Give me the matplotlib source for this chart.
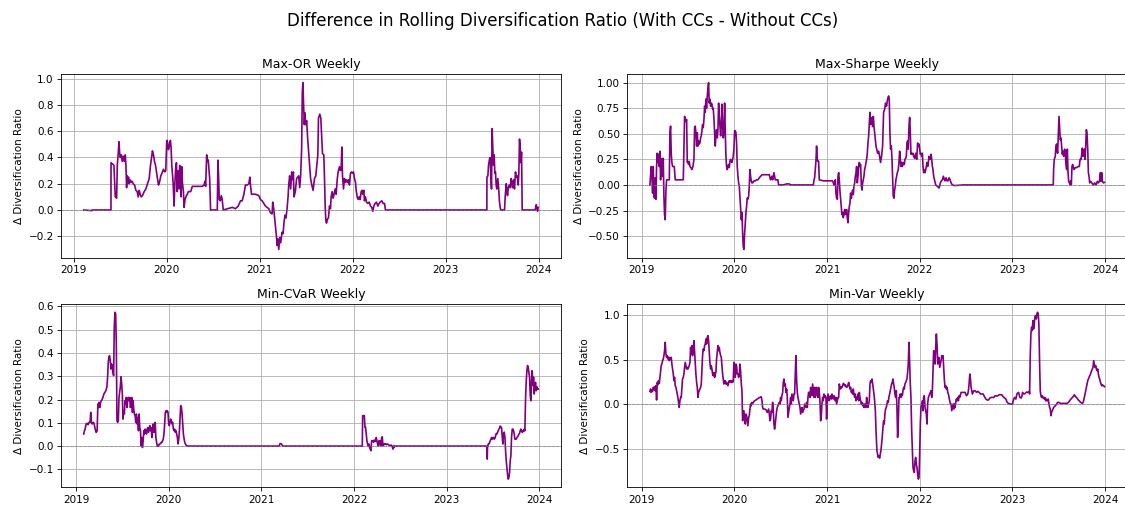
import matplotlib
matplotlib.use("Agg")
import matplotlib.pyplot as plt
import matplotlib.dates as mdates
from matplotlib.ticker import MultipleLocator
import numpy as np
import pandas as pd

# (decimal year, delta diversification ratio) for each strategy
max_or = [
    (2019.107, 0.00), (2019.196, -0.005), (2019.200, 0.00), (2019.400, 0.00), (2019.401, 0.36),
    (2019.418, 0.35), (2019.432, 0.34), (2019.446, 0.10), (2019.461, 0.09), (2019.468, 0.34),
    (2019.479, 0.44), (2019.486, 0.52), (2019.493, 0.44), (2019.500, 0.40), (2019.511, 0.42),
    (2019.521, 0.37), (2019.532, 0.41), (2019.543, 0.37), (2019.554, 0.42), (2019.561, 0.34),
    (2019.568, 0.17), (2019.575, 0.26), (2019.582, 0.22), (2019.589, 0.25), (2019.596, 0.20),
    (2019.604, 0.23), (2019.614, 0.21), (2019.625, 0.22), (2019.639, 0.20), (2019.654, 0.19),
    (2019.668, 0.15), (2019.682, 0.14), (2019.693, 0.10), (2019.704, 0.15), (2019.714, 0.12),
    (2019.725, 0.10), (2019.739, 0.11), (2019.757, 0.14), (2019.775, 0.16), (2019.793, 0.20),
    (2019.811, 0.24), (2019.825, 0.34), (2019.836, 0.40), (2019.846, 0.45), (2019.857, 0.42),
    (2019.868, 0.37), (2019.879, 0.34), (2019.889, 0.29), (2019.900, 0.24), (2019.911, 0.19),
    (2019.921, 0.21), (2019.936, 0.26), (2019.954, 0.29), (2019.964, 0.31), (2019.979, 0.29),
    (2019.989, 0.30), (2020.000, 0.53), (2020.011, 0.51), (2020.018, 0.46), (2020.029, 0.49),
    (2020.039, 0.53), (2020.046, 0.48), (2020.054, 0.34), (2020.061, 0.27), (2020.068, 0.21),
    (2020.079, 0.03), (2020.086, 0.19), (2020.096, 0.32), (2020.104, 0.36), (2020.111, 0.14),
    (2020.118, 0.21), (2020.125, 0.30), (2020.132, 0.16), (2020.139, 0.34), (2020.146, 0.24),
    (2020.154, 0.10), (2020.161, 0.33), (2020.168, 0.21), (2020.179, 0.14), (2020.186, 0.02),
    (2020.196, 0.08), (2020.211, 0.11), (2020.221, 0.12), (2020.232, 0.14), (2020.246, 0.14),
    (2020.257, 0.14), (2020.275, 0.18), (2020.382, 0.18), (2020.400, 0.19), (2020.411, 0.22),
    (2020.418, 0.18), (2020.429, 0.42), (2020.439, 0.37), (2020.446, 0.38), (2020.461, 0.24),
    (2020.471, 0.00), (2020.543, 0.00), (2020.550, 0.38), (2020.557, 0.26), (2020.564, 0.08),
    (2020.575, 0.07), (2020.586, 0.11), (2020.596, 0.08), (2020.607, 0.00), (2020.704, 0.02),
    (2020.739, 0.01), (2020.768, 0.03), (2020.793, 0.07), (2020.811, 0.07), (2020.829, 0.12),
    (2020.846, 0.19), (2020.864, 0.19), (2020.882, 0.20), (2020.893, 0.25), (2020.900, 0.19),
    (2020.911, 0.12), (2020.954, 0.12), (2020.989, 0.11), (2021.007, 0.08), (2021.025, 0.07),
    (2021.043, 0.05), (2021.061, 0.03), (2021.079, 0.02), (2021.096, 0.01), (2021.114, -0.02),
    (2021.132, -0.03), (2021.139, 0.06), (2021.150, 0.01), (2021.161, -0.07), (2021.168, -0.12),
    (2021.179, -0.20), (2021.186, -0.27), (2021.193, -0.22), (2021.204, -0.30), (2021.214, -0.21),
    (2021.225, -0.25), (2021.239, -0.17), (2021.250, -0.18), (2021.261, -0.09), (2021.271, -0.04),
    (2021.282, -0.06), (2021.293, 0.01), (2021.304, 0.10), (2021.311, 0.19), (2021.321, 0.26),
    (2021.332, 0.16), (2021.343, 0.29), (2021.354, 0.23), (2021.361, 0.29), (2021.368, 0.10),
    (2021.382, 0.14), (2021.396, 0.24), (2021.407, 0.25), (2021.418, 0.26), (2021.429, 0.17),
    (2021.439, 0.26), (2021.450, 0.47), (2021.457, 0.90), (2021.464, 0.97), (2021.471, 0.80),
    (2021.479, 0.65), (2021.486, 0.74), (2021.493, 0.65), (2021.504, 0.68), (2021.514, 0.55),
    (2021.525, 0.44), (2021.536, 0.34), (2021.546, 0.24), (2021.559, 0.19), (2021.573, 0.15),
    (2021.588, 0.24), (2021.602, 0.26), (2021.613, 0.34), (2021.624, 0.42), (2021.631, 0.70),
    (2021.645, 0.73), (2021.656, 0.70), (2021.663, 0.60), (2021.674, 0.43), (2021.688, 0.42),
    (2021.695, 0.26), (2021.703, 0.03), (2021.710, -0.08), (2021.717, -0.10), (2021.728, -0.07),
    (2021.738, -0.06), (2021.749, 0.03), (2021.760, 0.01), (2021.767, 0.10), (2021.778, 0.14),
    (2021.788, 0.09), (2021.799, 0.12), (2021.810, 0.16), (2021.821, 0.12), (2021.832, 0.23),
    (2021.842, 0.29), (2021.857, 0.33), (2021.867, 0.30), (2021.875, 0.31), (2021.882, 0.48),
    (2021.889, 0.26), (2021.900, 0.16), (2021.910, 0.24), (2021.921, 0.21), (2021.932, 0.23),
    (2021.943, 0.21), (2021.953, 0.23), (2021.964, 0.19), (2021.975, 0.28), (2021.986, 0.29),
    (2021.996, 0.28), (2022.007, 0.29), (2022.018, 0.24), (2022.029, 0.21), (2022.036, 0.15),
    (2022.047, 0.10), (2022.057, 0.08), (2022.068, 0.10), (2022.079, 0.08), (2022.090, 0.14),
    (2022.100, 0.15), (2022.108, 0.12), (2022.118, 0.15), (2022.125, 0.07), (2022.136, 0.10),
    (2022.147, 0.06), (2022.161, 0.05), (2022.176, 0.06), (2022.190, 0.03), (2022.204, 0.02),
    (2022.215, -0.01), (2022.226, 0.03), (2022.240, 0.05), (2022.254, 0.06), (2022.269, 0.03),
    (2022.283, 0.05), (2022.294, 0.06), (2022.312, 0.07), (2022.326, 0.05), (2022.341, 0.05),
    (2022.351, 0.00), (2023.441, 0.00), (2023.442, 0.25), (2023.452, 0.26), (2023.459, 0.34),
    (2023.470, 0.39), (2023.477, 0.40), (2023.484, 0.26), (2023.491, 0.16), (2023.498, 0.62),
    (2023.505, 0.47), (2023.513, 0.34), (2023.520, 0.42), (2023.527, 0.28), (2023.534, 0.29),
    (2023.541, 0.19), (2023.548, 0.16), (2023.559, 0.24), (2023.570, 0.14), (2023.577, 0.06),
    (2023.584, 0.02), (2023.591, 0.00), (2023.631, 0.00), (2023.638, 0.10), (2023.649, 0.20),
    (2023.656, 0.17), (2023.663, 0.11), (2023.670, 0.16), (2023.681, 0.19), (2023.692, 0.17),
    (2023.703, 0.24), (2023.710, 0.21), (2023.717, 0.17), (2023.728, 0.23), (2023.738, 0.16),
    (2023.749, 0.29), (2023.756, 0.25), (2023.767, 0.26), (2023.778, 0.19), (2023.785, 0.28),
    (2023.792, 0.54), (2023.799, 0.49), (2023.806, 0.36), (2023.814, 0.44), (2023.821, 0.00),
    (2023.961, 0.00), (2023.971, 0.04), (2023.978, 0.02), (2023.986, -0.01), (2023.993, 0.02),
]

max_sharpe = [
    (2019.090, 0.00), (2019.104, 0.18), (2019.112, 0.085), (2019.119, -0.08), (2019.126, 0.18),
    (2019.133, -0.11), (2019.140, -0.13), (2019.147, 0.07), (2019.155, -0.14), (2019.162, 0.18),
    (2019.169, 0.31), (2019.176, 0.22), (2019.183, 0.30), (2019.191, 0.18), (2019.198, 0.33),
    (2019.205, 0.05), (2019.212, 0.18), (2019.219, 0.26), (2019.227, 0.085), (2019.234, 0.26),
    (2019.241, -0.11), (2019.248, -0.29), (2019.255, -0.34), (2019.263, -0.05), (2019.270, 0.05),
    (2019.299, 0.05), (2019.306, 0.51), (2019.313, 0.575), (2019.320, 0.31), (2019.327, 0.22),
    (2019.335, 0.18), (2019.353, 0.18), (2019.363, 0.05), (2019.450, 0.05), (2019.457, 0.35),
    (2019.464, 0.67), (2019.471, 0.64), (2019.478, 0.62), (2019.486, 0.64), (2019.493, 0.22),
    (2019.500, 0.23), (2019.507, 0.20), (2019.514, 0.23), (2019.522, 0.18), (2019.532, 0.17),
    (2019.543, 0.15), (2019.554, 0.18), (2019.565, 0.25), (2019.572, 0.56), (2019.579, 0.575),
    (2019.586, 0.51), (2019.594, 0.38), (2019.601, 0.51), (2019.608, 0.38), (2019.615, 0.43),
    (2019.622, 0.40), (2019.629, 0.41), (2019.637, 0.46), (2019.644, 0.48), (2019.651, 0.53),
    (2019.658, 0.59), (2019.665, 0.56), (2019.673, 0.64), (2019.680, 0.77), (2019.687, 0.71),
    (2019.694, 0.84), (2019.701, 0.75), (2019.709, 0.87), (2019.716, 0.95), (2019.723, 1.00),
    (2019.730, 0.80), (2019.737, 0.84), (2019.745, 0.77), (2019.752, 0.80), (2019.759, 0.79),
    (2019.766, 0.74), (2019.773, 0.75), (2019.781, 0.64), (2019.788, 0.51), (2019.795, 0.38),
    (2019.802, 0.48), (2019.809, 0.54), (2019.817, 0.46), (2019.824, 0.54), (2019.831, 0.80),
    (2019.838, 0.67), (2019.845, 0.575), (2019.853, 0.48), (2019.860, 0.61), (2019.867, 0.79),
    (2019.874, 0.575), (2019.881, 0.46), (2019.888, 0.51), (2019.896, 0.80), (2019.903, 0.51),
    (2019.910, 0.28), (2019.917, 0.18), (2019.924, 0.15), (2019.932, 0.18), (2019.939, 0.20),
    (2019.946, 0.17), (2019.953, 0.23), (2019.960, 0.25), (2019.968, 0.23), (2019.975, 0.22),
    (2019.982, 0.25), (2019.989, 0.28), (2019.996, 0.35), (2020.004, 0.53), (2020.011, 0.53),
    (2020.018, 0.51), (2020.025, 0.41), (2020.032, 0.18), (2020.040, 0.085), (2020.047, 0.02),
    (2020.054, -0.01), (2020.061, -0.11), (2020.068, -0.21), (2020.076, -0.34), (2020.083, -0.27),
    (2020.090, -0.47), (2020.097, -0.60), (2020.104, -0.63), (2020.112, -0.47), (2020.119, -0.37),
    (2020.126, -0.27), (2020.133, -0.21), (2020.140, -0.13), (2020.147, -0.14), (2020.155, -0.11),
    (2020.162, -0.01), (2020.169, 0.15), (2020.176, 0.085), (2020.183, 0.04), (2020.191, 0.02),
    (2020.198, 0.02), (2020.212, 0.04), (2020.227, 0.04), (2020.241, 0.05), (2020.255, 0.05),
    (2020.270, 0.07), (2020.284, 0.085), (2020.299, 0.10), (2020.378, 0.10), (2020.385, 0.07),
    (2020.392, 0.05), (2020.406, 0.085), (2020.414, 0.05), (2020.428, 0.12), (2020.435, 0.085),
    (2020.442, 0.05), (2020.471, 0.05), (2020.478, 0.00), (2020.529, 0.00), (2020.565, 0.01),
    (2020.594, 0.01), (2020.608, 0.00), (2020.853, 0.00), (2020.860, 0.05), (2020.867, 0.07),
    (2020.874, 0.15), (2020.881, 0.23), (2020.888, 0.38), (2020.896, 0.25), (2020.903, 0.23),
    (2020.910, 0.23), (2020.917, 0.05), (2020.960, 0.04), (2020.996, 0.04), (2021.032, 0.04),
    (2021.061, 0.04), (2021.076, 0.00), (2021.083, 0.02), (2021.090, 0.05), (2021.097, -0.08),
    (2021.104, -0.13), (2021.112, -0.14), (2021.119, 0.085), (2021.126, 0.12), (2021.133, 0.05),
    (2021.140, -0.06), (2021.147, -0.14), (2021.155, -0.22), (2021.162, -0.29), (2021.169, -0.27),
    (2021.176, -0.32), (2021.183, -0.29), (2021.191, -0.24), (2021.198, -0.29), (2021.205, -0.27),
    (2021.212, -0.24), (2021.219, -0.32), (2021.227, -0.37), (2021.234, -0.27), (2021.241, -0.21),
    (2021.248, -0.18), (2021.255, -0.08), (2021.263, -0.13), (2021.270, -0.08), (2021.277, -0.05),
    (2021.284, -0.095), (2021.291, -0.01), (2021.299, 0.02), (2021.306, 0.085), (2021.313, 0.12),
    (2021.320, 0.18), (2021.327, 0.02), (2021.335, 0.085), (2021.342, 0.18), (2021.349, 0.22),
    (2021.356, 0.18), (2021.363, 0.20), (2021.371, -0.01), (2021.378, -0.05), (2021.385, 0.02),
    (2021.392, 0.05), (2021.399, 0.085), (2021.406, 0.15), (2021.414, 0.18), (2021.421, 0.22),
    (2021.428, 0.25), (2021.435, 0.31), (2021.442, 0.41), (2021.450, 0.48), (2021.457, 0.61),
    (2021.464, 0.71), (2021.471, 0.59), (2021.478, 0.61), (2021.486, 0.66), (2021.493, 0.57),
    (2021.500, 0.67), (2021.507, 0.575), (2021.514, 0.51), (2021.522, 0.44), (2021.529, 0.38),
    (2021.536, 0.35), (2021.546, 0.31), (2021.557, 0.33), (2021.568, 0.28), (2021.578, 0.22),
    (2021.589, 0.28), (2021.600, 0.38), (2021.611, 0.71), (2021.622, 0.74), (2021.632, 0.80),
    (2021.643, 0.77), (2021.654, 0.84), (2021.665, 0.87), (2021.672, 0.84), (2021.679, 0.51),
    (2021.686, 0.35), (2021.694, 0.38), (2021.701, 0.26), (2021.708, 0.085), (2021.715, -0.11),
    (2021.723, -0.13), (2021.730, -0.05), (2021.737, -0.01), (2021.744, 0.05), (2021.751, 0.085),
    (2021.759, 0.12), (2021.769, 0.15), (2021.777, 0.22), (2021.784, 0.33), (2021.791, 0.25),
    (2021.798, 0.18), (2021.805, 0.22), (2021.813, 0.18), (2021.820, 0.22), (2021.827, 0.20),
    (2021.834, 0.20), (2021.841, 0.25), (2021.849, 0.26), (2021.856, 0.28), (2021.863, 0.41),
    (2021.870, 0.43), (2021.877, 0.35), (2021.885, 0.575), (2021.892, 0.66), (2021.899, 0.51),
    (2021.906, 0.30), (2021.914, 0.31), (2021.921, 0.30), (2021.928, 0.31), (2021.935, 0.28),
    (2021.946, 0.26), (2021.957, 0.31), (2021.968, 0.25), (2021.978, 0.41), (2021.986, 0.38),
    (2021.993, 0.40), (2022.000, 0.35), (2022.007, 0.30), (2022.014, 0.31), (2022.022, 0.28),
    (2022.029, 0.31), (2022.036, 0.18), (2022.043, 0.12), (2022.050, 0.15), (2022.058, 0.12),
    (2022.065, 0.15), (2022.072, 0.18), (2022.079, 0.22), (2022.086, 0.18), (2022.094, 0.22),
    (2022.101, 0.28), (2022.108, 0.26), (2022.115, 0.25), (2022.123, 0.30), (2022.130, 0.25),
    (2022.137, 0.18), (2022.144, 0.15), (2022.151, 0.085), (2022.162, 0.04), (2022.173, 0.00),
    (2022.187, -0.01), (2022.198, -0.02), (2022.209, -0.03), (2022.216, -0.01), (2022.223, 0.02),
    (2022.234, 0.04), (2022.245, 0.05), (2022.256, 0.085), (2022.267, 0.05), (2022.274, 0.04),
    (2022.285, 0.07), (2022.295, 0.04), (2022.306, 0.04), (2022.317, 0.07), (2022.328, 0.05),
    (2022.339, 0.02), (2022.353, 0.00), (2022.368, -0.005), (2022.396, -0.005), (2022.468, 0.00),
    (2023.441, 0.00), (2023.445, 0.15), (2023.452, 0.25), (2023.463, 0.28), (2023.470, 0.38),
    (2023.477, 0.40), (2023.488, 0.31), (2023.495, 0.48), (2023.503, 0.67), (2023.510, 0.56),
    (2023.517, 0.44), (2023.524, 0.46), (2023.532, 0.38), (2023.539, 0.30), (2023.546, 0.33),
    (2023.553, 0.28), (2023.564, 0.35), (2023.571, 0.31), (2023.578, 0.20), (2023.586, 0.15),
    (2023.593, 0.35), (2023.600, 0.13), (2023.607, 0.04), (2023.614, 0.02), (2023.622, 0.00),
    (2023.629, 0.04), (2023.636, 0.00), (2023.643, 0.18), (2023.650, 0.20), (2023.665, 0.15),
    (2023.679, 0.17), (2023.694, 0.17), (2023.708, 0.18), (2023.722, 0.18), (2023.730, 0.25),
    (2023.741, 0.25), (2023.748, 0.30), (2023.755, 0.36), (2023.762, 0.28), (2023.769, 0.31),
    (2023.777, 0.35), (2023.784, 0.25), (2023.791, 0.38), (2023.798, 0.54), (2023.805, 0.51),
    (2023.813, 0.35), (2023.820, 0.12), (2023.827, 0.085), (2023.834, 0.02), (2023.845, 0.035),
    (2023.856, 0.02), (2023.874, 0.00), (2023.888, 0.02), (2023.903, 0.00), (2023.917, 0.035),
    (2023.928, 0.02), (2023.939, 0.035), (2023.950, 0.12), (2023.957, 0.035), (2023.964, 0.12),
    (2023.971, 0.035), (2023.982, 0.02), (2023.993, 0.025),
]

min_cvar = [
    (2019.083, 0.052), (2019.091, 0.066), (2019.098, 0.073), (2019.109, 0.095), (2019.120, 0.098),
    (2019.130, 0.092), (2019.141, 0.102), (2019.152, 0.102), (2019.159, 0.145), (2019.167, 0.102),
    (2019.174, 0.095), (2019.181, 0.098), (2019.188, 0.102), (2019.196, 0.095), (2019.207, 0.073),
    (2019.217, 0.059), (2019.228, 0.066), (2019.236, 0.181), (2019.243, 0.166), (2019.250, 0.188),
    (2019.257, 0.166), (2019.264, 0.184), (2019.272, 0.195), (2019.279, 0.198), (2019.290, 0.209),
    (2019.301, 0.224), (2019.312, 0.231), (2019.322, 0.238), (2019.333, 0.253), (2019.341, 0.296),
    (2019.348, 0.360), (2019.355, 0.382), (2019.362, 0.389), (2019.370, 0.367), (2019.377, 0.331),
    (2019.384, 0.353), (2019.391, 0.339), (2019.399, 0.317), (2019.406, 0.303), (2019.413, 0.511),
    (2019.420, 0.575), (2019.428, 0.568), (2019.435, 0.439), (2019.442, 0.109), (2019.449, 0.102),
    (2019.457, 0.109), (2019.464, 0.209), (2019.471, 0.231), (2019.478, 0.253), (2019.486, 0.298),
    (2019.493, 0.267), (2019.500, 0.224), (2019.507, 0.116), (2019.514, 0.152), (2019.522, 0.138),
    (2019.529, 0.195), (2019.536, 0.181), (2019.543, 0.209), (2019.551, 0.166), (2019.558, 0.202),
    (2019.565, 0.209), (2019.572, 0.195), (2019.580, 0.209), (2019.587, 0.166), (2019.594, 0.181),
    (2019.601, 0.209), (2019.609, 0.145), (2019.616, 0.195), (2019.623, 0.159), (2019.630, 0.138),
    (2019.638, 0.131), (2019.645, 0.102), (2019.652, 0.138), (2019.659, 0.095), (2019.667, 0.123),
    (2019.674, 0.066), (2019.681, 0.138), (2019.688, 0.080), (2019.696, 0.066), (2019.703, 0.001),
    (2019.710, 0.037), (2019.717, -0.006), (2019.725, 0.023), (2019.732, 0.066), (2019.739, 0.052),
    (2019.746, 0.073), (2019.754, 0.066), (2019.761, 0.052), (2019.768, 0.073), (2019.775, 0.080),
    (2019.783, 0.059), (2019.790, 0.073), (2019.797, 0.088), (2019.804, 0.066), (2019.812, 0.080),
    (2019.819, 0.037), (2019.826, 0.073), (2019.833, 0.095), (2019.841, 0.059), (2019.848, 0.073),
    (2019.855, 0.102), (2019.862, 0.037), (2019.870, 0.016), (2019.877, 0.001), (2019.884, -0.001),
    (2019.891, 0.001), (2019.899, 0.009), (2019.906, 0.009), (2019.913, 0.011), (2019.920, 0.016),
    (2019.928, 0.016), (2019.935, 0.023), (2019.942, 0.030), (2019.949, 0.052), (2019.957, 0.095),
    (2019.964, 0.145), (2019.971, 0.152), (2019.978, 0.145), (2019.986, 0.152), (2019.993, 0.145),
    (2020.000, 0.095), (2020.007, 0.088), (2020.014, 0.102), (2020.022, 0.116), (2020.029, 0.109),
    (2020.036, 0.095), (2020.043, 0.102), (2020.051, 0.073), (2020.058, 0.066), (2020.065, 0.073),
    (2020.072, 0.059), (2020.080, 0.066), (2020.087, 0.052), (2020.094, 0.037), (2020.101, 0.009),
    (2020.109, 0.030), (2020.116, 0.066), (2020.123, 0.123), (2020.130, 0.174), (2020.138, 0.166),
    (2020.145, 0.138), (2020.152, 0.095), (2020.159, 0.052), (2020.167, 0.030), (2020.174, 0.016),
    (2020.181, 0.009), (2020.196, 0.001), (2020.210, 0.000), (2021.192, 0.000), (2021.203, 0.011),
    (2021.217, 0.009), (2021.232, 0.000), (2022.090, 0.000), (2022.094, 0.131), (2022.104, 0.131),
    (2022.112, 0.131), (2022.119, 0.080), (2022.126, 0.080), (2022.133, 0.052), (2022.140, 0.023),
    (2022.147, 0.009), (2022.155, 0.001), (2022.162, 0.009), (2022.169, -0.006), (2022.176, -0.013),
    (2022.183, -0.020), (2022.191, 0.023), (2022.198, 0.023), (2022.205, 0.023), (2022.212, 0.016),
    (2022.219, 0.026), (2022.227, 0.023), (2022.234, 0.020), (2022.241, 0.037), (2022.248, 0.023),
    (2022.255, 0.009), (2022.263, 0.001), (2022.270, 0.023), (2022.277, 0.006), (2022.284, 0.023),
    (2022.291, 0.001), (2022.299, 0.037), (2022.306, 0.040), (2022.313, 0.001), (2022.320, 0.009),
    (2022.327, 0.006), (2022.335, 0.011), (2022.342, 0.009), (2022.349, 0.006), (2022.363, 0.009),
    (2022.378, 0.004), (2022.392, 0.003), (2022.406, 0.004), (2022.414, -0.003), (2022.421, -0.013),
    (2022.428, 0.001), (2022.435, -0.006), (2022.442, 0.000), (2023.432, 0.000), (2023.435, -0.020),
    (2023.439, -0.056), (2023.442, -0.006), (2023.450, 0.009), (2023.457, 0.009), (2023.464, 0.016),
    (2023.471, 0.023), (2023.478, 0.030), (2023.486, 0.037), (2023.493, 0.030), (2023.500, 0.033),
    (2023.507, 0.037), (2023.514, 0.030), (2023.522, 0.034), (2023.529, 0.044), (2023.536, 0.054),
    (2023.543, 0.052), (2023.550, 0.059), (2023.558, 0.066), (2023.565, 0.073), (2023.572, 0.077),
    (2023.579, 0.086), (2023.586, 0.083), (2023.594, 0.077), (2023.601, 0.037), (2023.608, 0.009),
    (2023.615, 0.052), (2023.622, 0.060), (2023.630, 0.037), (2023.637, -0.020), (2023.644, -0.063),
    (2023.651, -0.092), (2023.658, -0.121), (2023.665, -0.142), (2023.673, -0.135), (2023.680, -0.113),
    (2023.687, -0.063), (2023.694, -0.042), (2023.701, 0.037), (2023.709, 0.073), (2023.716, 0.073),
    (2023.723, 0.066), (2023.730, 0.052), (2023.737, 0.030), (2023.745, 0.030), (2023.752, 0.030),
    (2023.759, 0.037), (2023.766, 0.040), (2023.773, 0.044), (2023.781, 0.052), (2023.788, 0.055),
    (2023.795, 0.066), (2023.802, 0.073), (2023.809, 0.066), (2023.817, 0.059), (2023.824, 0.066),
    (2023.831, 0.063), (2023.838, 0.073), (2023.845, 0.066), (2023.853, 0.209), (2023.860, 0.280),
    (2023.867, 0.324), (2023.874, 0.346), (2023.881, 0.339), (2023.888, 0.317), (2023.896, 0.296),
    (2023.903, 0.217), (2023.910, 0.195), (2023.917, 0.280), (2023.924, 0.324), (2023.932, 0.260),
    (2023.939, 0.296), (2023.946, 0.224), (2023.953, 0.253), (2023.960, 0.274), (2023.968, 0.238),
    (2023.975, 0.255), (2023.982, 0.245), (2023.989, 0.245),
]

min_var = [
    (2019.090, 0.146), (2019.097, 0.172), (2019.104, 0.134), (2019.112, 0.160), (2019.119, 0.146),
    (2019.126, 0.190), (2019.133, 0.172), (2019.140, 0.198), (2019.147, 0.153), (2019.155, 0.209),
    (2019.162, 0.049), (2019.169, 0.246), (2019.176, 0.220), (2019.183, 0.265), (2019.191, 0.235),
    (2019.198, 0.302), (2019.205, 0.358), (2019.212, 0.433), (2019.219, 0.451), (2019.227, 0.489),
    (2019.234, 0.507), (2019.241, 0.545), (2019.248, 0.601), (2019.255, 0.694), (2019.263, 0.563),
    (2019.270, 0.526), (2019.277, 0.545), (2019.284, 0.507), (2019.291, 0.526), (2019.299, 0.489),
    (2019.306, 0.526), (2019.313, 0.507), (2019.320, 0.526), (2019.327, 0.451), (2019.335, 0.396),
    (2019.342, 0.340), (2019.349, 0.265), (2019.356, 0.302), (2019.363, 0.209), (2019.371, 0.190),
    (2019.378, 0.153), (2019.385, 0.116), (2019.392, 0.078), (2019.399, 0.022), (2019.406, -0.034),
    (2019.414, 0.041), (2019.421, 0.078), (2019.428, 0.078), (2019.435, 0.190), (2019.442, 0.284),
    (2019.450, 0.302), (2019.457, 0.340), (2019.464, 0.414), (2019.471, 0.470), (2019.478, 0.433),
    (2019.486, 0.396), (2019.493, 0.414), (2019.500, 0.396), (2019.507, 0.414), (2019.514, 0.433),
    (2019.522, 0.470), (2019.529, 0.638), (2019.536, 0.563), (2019.543, 0.657), (2019.550, 0.545),
    (2019.558, 0.619), (2019.565, 0.713), (2019.572, 0.582), (2019.579, 0.451), (2019.586, 0.340),
    (2019.594, 0.246), (2019.601, 0.190), (2019.608, 0.078), (2019.615, 0.134), (2019.622, 0.153),
    (2019.629, 0.172), (2019.637, 0.190), (2019.644, 0.228), (2019.651, 0.396), (2019.658, 0.545),
    (2019.665, 0.619), (2019.673, 0.601), (2019.680, 0.657), (2019.687, 0.675), (2019.694, 0.731),
    (2019.701, 0.675), (2019.709, 0.750), (2019.716, 0.769), (2019.723, 0.713), (2019.730, 0.601),
    (2019.737, 0.470), (2019.745, 0.396), (2019.752, 0.433), (2019.759, 0.396), (2019.766, 0.340),
    (2019.773, 0.321), (2019.781, 0.358), (2019.788, 0.302), (2019.795, 0.340), (2019.802, 0.358),
    (2019.809, 0.507), (2019.817, 0.582), (2019.824, 0.657), (2019.831, 0.601), (2019.838, 0.638),
    (2019.845, 0.582), (2019.853, 0.545), (2019.860, 0.526), (2019.867, 0.433), (2019.874, 0.340),
    (2019.881, 0.284), (2019.888, 0.228), (2019.896, 0.265), (2019.903, 0.265), (2019.910, 0.228),
    (2019.917, 0.246), (2019.924, 0.228), (2019.932, 0.209), (2019.939, 0.246), (2019.946, 0.265),
    (2019.953, 0.246), (2019.960, 0.265), (2019.968, 0.246), (2019.975, 0.265), (2019.982, 0.246),
    (2019.989, 0.265), (2019.996, 0.470), (2020.004, 0.340), (2020.011, 0.302), (2020.018, 0.451),
    (2020.025, 0.433), (2020.032, 0.340), (2020.040, 0.340), (2020.047, 0.302), (2020.054, 0.321),
    (2020.061, 0.451), (2020.068, 0.377), (2020.076, 0.228), (2020.083, 0.153), (2020.090, -0.183),
    (2020.097, -0.127), (2020.104, -0.071), (2020.112, -0.164), (2020.119, -0.220), (2020.126, -0.108),
    (2020.133, -0.127), (2020.140, -0.183), (2020.147, -0.239), (2020.155, -0.146), (2020.162, -0.127),
    (2020.169, -0.052), (2020.176, 0.004), (2020.183, -0.015), (2020.191, 0.022), (2020.198, 0.011),
    (2020.205, 0.022), (2020.219, 0.041), (2020.234, 0.049), (2020.248, 0.060), (2020.263, 0.071),
    (2020.277, 0.078), (2020.291, 0.086), (2020.299, 0.041), (2020.306, -0.034), (2020.313, -0.052),
    (2020.327, -0.052), (2020.342, -0.060), (2020.356, -0.090), (2020.371, -0.052), (2020.378, -0.108),
    (2020.385, -0.183), (2020.392, -0.164), (2020.399, -0.071), (2020.406, -0.090), (2020.414, 0.022),
    (2020.421, -0.071), (2020.428, -0.220), (2020.435, -0.276), (2020.442, -0.220), (2020.450, -0.146),
    (2020.457, -0.071), (2020.464, -0.034), (2020.471, -0.015), (2020.478, 0.004), (2020.486, 0.022),
    (2020.493, 0.004), (2020.500, 0.078), (2020.507, 0.041), (2020.514, 0.097), (2020.522, 0.134),
    (2020.529, 0.246), (2020.536, 0.284), (2020.543, 0.209), (2020.550, 0.228), (2020.558, 0.134),
    (2020.565, 0.172), (2020.572, 0.078), (2020.579, -0.146), (2020.586, -0.090), (2020.594, -0.034),
    (2020.601, 0.004), (2020.608, 0.078), (2020.615, 0.004), (2020.622, 0.116), (2020.629, 0.078),
    (2020.637, 0.041), (2020.644, 0.116), (2020.651, 0.116), (2020.658, 0.340), (2020.665, 0.545),
    (2020.673, 0.265), (2020.680, 0.134), (2020.687, 0.078), (2020.694, 0.041), (2020.701, 0.004),
    (2020.709, -0.034), (2020.716, -0.108), (2020.723, -0.071), (2020.730, -0.034), (2020.737, -0.090),
    (2020.745, -0.071), (2020.752, -0.052), (2020.759, 0.004), (2020.766, -0.015), (2020.773, -0.034),
    (2020.781, 0.022), (2020.788, -0.034), (2020.795, 0.078), (2020.802, 0.134), (2020.809, 0.134),
    (2020.817, 0.078), (2020.824, 0.190), (2020.831, 0.134), (2020.838, 0.097), (2020.845, 0.228),
    (2020.853, 0.153), (2020.860, 0.078), (2020.867, 0.190), (2020.874, 0.078), (2020.881, 0.172),
    (2020.888, 0.190), (2020.896, 0.097), (2020.903, 0.078), (2020.910, 0.190), (2020.917, 0.134),
    (2020.924, 0.041), (2020.932, -0.183), (2020.939, -0.127), (2020.946, 0.004), (2020.953, 0.078),
    (2020.960, 0.041), (2020.968, 0.116), (2020.975, 0.078), (2020.982, 0.097), (2020.989, 0.078),
    (2020.996, -0.164), (2021.004, 0.041), (2021.011, 0.116), (2021.018, 0.078), (2021.025, 0.041),
    (2021.032, 0.078), (2021.040, 0.097), (2021.047, 0.060), (2021.054, 0.116), (2021.061, 0.078),
    (2021.068, 0.060), (2021.076, 0.097), (2021.083, 0.078), (2021.090, 0.041), (2021.097, 0.078),
    (2021.104, 0.004), (2021.112, 0.041), (2021.119, 0.078), (2021.126, 0.078), (2021.133, 0.228),
    (2021.140, 0.190), (2021.147, 0.172), (2021.155, 0.198), (2021.162, 0.190), (2021.169, 0.209),
    (2021.176, 0.235), (2021.183, 0.228), (2021.191, 0.209), (2021.198, 0.220), (2021.205, 0.198),
    (2021.212, 0.190), (2021.219, 0.198), (2021.227, 0.220), (2021.234, 0.246), (2021.241, 0.209),
    (2021.248, 0.172), (2021.255, 0.190), (2021.263, 0.134), (2021.270, 0.153), (2021.277, 0.116),
    (2021.284, 0.172), (2021.291, 0.116), (2021.299, 0.078), (2021.306, 0.116), (2021.313, 0.041),
    (2021.320, 0.078), (2021.327, 0.060), (2021.335, 0.116), (2021.342, 0.041), (2021.349, 0.134),
    (2021.356, 0.078), (2021.363, 0.041), (2021.371, 0.004), (2021.378, 0.022), (2021.385, -0.015),
    (2021.392, 0.004), (2021.399, -0.034), (2021.406, 0.004), (2021.414, -0.015), (2021.421, -0.034),
    (2021.428, 0.078), (2021.435, 0.004), (2021.442, -0.034), (2021.450, 0.004), (2021.457, 0.041),
    (2021.464, 0.228), (2021.471, 0.265), (2021.478, 0.246), (2021.486, 0.284), (2021.493, 0.228),
    (2021.500, 0.172), (2021.507, 0.116), (2021.514, 0.041), (2021.522, -0.071), (2021.529, -0.295),
    (2021.536, -0.444), (2021.539, -0.519), (2021.546, -0.556), (2021.553, -0.593), (2021.560, -0.575),
    (2021.568, -0.601), (2021.575, -0.556), (2021.582, -0.519), (2021.589, -0.444), (2021.596, -0.369),
    (2021.604, -0.257), (2021.611, -0.183), (2021.618, -0.220), (2021.625, -0.108), (2021.632, -0.052),
    (2021.640, -0.034), (2021.647, 0.004), (2021.654, 0.041), (2021.661, 0.022), (2021.668, 0.078),
    (2021.676, 0.116), (2021.683, 0.153), (2021.690, 0.190), (2021.697, 0.228), (2021.705, 0.246),
    (2021.712, 0.284), (2021.719, 0.228), (2021.726, 0.190), (2021.733, 0.116), (2021.741, 0.078),
    (2021.748, 0.153), (2021.755, -0.034), (2021.762, -0.369), (2021.769, -0.220), (2021.777, 0.078),
    (2021.784, 0.078), (2021.791, 0.116), (2021.798, 0.078), (2021.805, 0.116), (2021.813, 0.097),
    (2021.820, 0.153), (2021.827, 0.190), (2021.834, 0.172), (2021.841, 0.228), (2021.849, 0.246),
    (2021.856, 0.265), (2021.863, 0.284), (2021.870, 0.358), (2021.877, 0.451), (2021.885, 0.694),
    (2021.892, 0.451), (2021.899, 0.228), (2021.906, 0.078), (2021.914, -0.295), (2021.921, -0.519),
    (2021.928, -0.705), (2021.935, -0.743), (2021.942, -0.761), (2021.950, -0.631), (2021.957, -0.593),
    (2021.964, -0.668), (2021.971, -0.705), (2021.978, -0.780), (2021.986, -0.836), (2021.993, -0.817),
    (2022.000, -0.556), (2022.007, -0.220), (2022.014, -0.034), (2022.022, 0.004), (2022.029, 0.041),
    (2022.036, -0.071), (2022.043, 0.078), (2022.050, 0.097), (2022.058, -0.034), (2022.065, -0.071),
    (2022.072, -0.108), (2022.079, -0.220), (2022.086, 0.004), (2022.094, 0.078), (2022.101, 0.097),
    (2022.108, 0.116), (2022.115, 0.134), (2022.123, 0.153), (2022.130, 0.078), (2022.137, 0.153),
    (2022.144, 0.377), (2022.151, 0.601), (2022.159, 0.563), (2022.166, 0.451), (2022.173, 0.638),
    (2022.180, 0.787), (2022.187, 0.675), (2022.195, 0.451), (2022.202, 0.489), (2022.209, 0.526),
    (2022.216, 0.414), (2022.223, 0.451), (2022.231, 0.489), (2022.238, 0.545), (2022.245, 0.526),
    (2022.252, 0.545), (2022.259, 0.414), (2022.267, 0.265), (2022.274, 0.190), (2022.281, 0.209),
    (2022.288, 0.172), (2022.295, 0.190), (2022.303, 0.134), (2022.310, 0.116), (2022.317, 0.078),
    (2022.324, 0.041), (2022.332, 0.004), (2022.339, 0.004), (2022.346, -0.071), (2022.353, -0.034),
    (2022.360, 0.004), (2022.368, -0.052), (2022.375, 0.004), (2022.382, -0.034), (2022.389, 0.022),
    (2022.396, 0.060), (2022.404, 0.041), (2022.411, 0.078), (2022.418, 0.041), (2022.425, 0.097),
    (2022.432, 0.078), (2022.447, 0.134), (2022.461, 0.134), (2022.476, 0.134), (2022.490, 0.134),
    (2022.505, 0.097), (2022.519, 0.116), (2022.526, 0.153), (2022.533, 0.228), (2022.541, 0.340),
    (2022.548, 0.284), (2022.555, 0.190), (2022.562, 0.153), (2022.569, 0.116), (2022.584, 0.153),
    (2022.598, 0.153), (2022.613, 0.134), (2022.627, 0.146), (2022.641, 0.134), (2022.656, 0.116),
    (2022.670, 0.116), (2022.685, 0.116), (2022.699, 0.086), (2022.714, 0.060), (2022.728, 0.049),
    (2022.742, 0.049), (2022.757, 0.071), (2022.771, 0.078), (2022.786, 0.078), (2022.800, 0.078),
    (2022.814, 0.097), (2022.829, 0.093), (2022.843, 0.097), (2022.858, 0.108), (2022.872, 0.108),
    (2022.886, 0.108), (2022.901, 0.086), (2022.915, 0.071), (2022.930, 0.060), (2022.944, 0.022),
    (2022.959, 0.011), (2022.973, 0.004), (2022.987, 0.004), (2023.002, 0.004), (2023.009, 0.041),
    (2023.023, 0.078), (2023.038, 0.060), (2023.045, 0.097), (2023.052, 0.123), (2023.067, 0.134),
    (2023.081, 0.078), (2023.096, 0.071), (2023.103, 0.093), (2023.110, 0.134), (2023.124, 0.116),
    (2023.139, 0.123), (2023.153, 0.138), (2023.168, 0.134), (2023.182, 0.146), (2023.186, 0.116),
    (2023.193, 0.545), (2023.200, 0.787), (2023.207, 0.862), (2023.214, 0.825), (2023.222, 0.937),
    (2023.229, 0.843), (2023.236, 0.899), (2023.243, 0.974), (2023.250, 0.993), (2023.258, 0.955),
    (2023.265, 1.011), (2023.272, 1.030), (2023.279, 1.011), (2023.286, 0.899), (2023.294, 0.451),
    (2023.301, 0.153), (2023.308, 0.097), (2023.315, 0.078), (2023.323, 0.097), (2023.330, 0.071),
    (2023.337, 0.078), (2023.344, 0.060), (2023.351, 0.078), (2023.359, 0.041), (2023.366, 0.060),
    (2023.373, 0.041), (2023.380, 0.041), (2023.387, 0.060), (2023.395, 0.004), (2023.402, -0.034),
    (2023.409, -0.052), (2023.416, -0.127), (2023.423, -0.090), (2023.431, -0.071), (2023.438, -0.052),
    (2023.445, -0.034), (2023.459, -0.019), (2023.474, -0.004), (2023.488, 0.022), (2023.503, 0.022),
    (2023.517, 0.011), (2023.539, 0.011), (2023.568, 0.011), (2023.589, 0.011), (2023.604, 0.022),
    (2023.618, 0.041), (2023.632, 0.060), (2023.647, 0.078), (2023.661, 0.093), (2023.668, 0.108),
    (2023.683, 0.086), (2023.697, 0.071), (2023.712, 0.049), (2023.726, 0.034), (2023.741, 0.019),
    (2023.755, 0.011), (2023.762, 0.022), (2023.769, 0.041), (2023.777, 0.078), (2023.784, 0.116),
    (2023.791, 0.153), (2023.798, 0.190), (2023.805, 0.228), (2023.813, 0.265), (2023.820, 0.284),
    (2023.827, 0.302), (2023.834, 0.321), (2023.841, 0.332), (2023.848, 0.358), (2023.856, 0.377),
    (2023.863, 0.396), (2023.870, 0.414), (2023.877, 0.489), (2023.885, 0.451), (2023.892, 0.414),
    (2023.899, 0.433), (2023.906, 0.396), (2023.913, 0.377), (2023.921, 0.396), (2023.928, 0.340),
    (2023.935, 0.302), (2023.942, 0.284), (2023.950, 0.246), (2023.957, 0.228), (2023.964, 0.209),
    (2023.971, 0.220), (2023.978, 0.209), (2023.986, 0.209), (2023.993, 0.198),
]

titles = ["Max-OR Weekly", "Max-Sharpe Weekly", "Min-CVaR Weekly", "Min-Var Weekly"]
series = [max_or, max_sharpe, min_cvar, min_var]
ytick_steps = [0.2, 0.25, 0.1, 0.5]


def to_dates(years):
    years = np.asarray(years, dtype=float)
    return pd.Timestamp("2019-01-01") + pd.to_timedelta((years - 2019) * 365.25, unit="D")


fig = plt.figure(figsize=(15, 6.76), dpi=75)
fig.suptitle("Difference in Rolling Diversification Ratio (With CCs - Without CCs)",
             fontsize=16, y=0.977)

# axes boxes: [left, bottom, width, height]; the right column runs past the figure edge
boxes = [
    [0.0542, 0.4917, 0.4444, 0.3617],
    [0.5575, 0.4917, 0.4444, 0.3617],
    [0.0542, 0.0385, 0.4444, 0.362],
    [0.5575, 0.0385, 0.4444, 0.362],
]

for box, title, data, step in zip(boxes, titles, series, ytick_steps):
    ax = fig.add_axes(box)
    t, v = zip(*data)
    ax.plot(to_dates(t), v, color="purple", linewidth=1.6)
    ax.axhline(0, color="gray", linestyle="--", linewidth=0.8, alpha=0.7)
    ax.set_title(title)
    ax.set_ylabel("Δ Diversification Ratio")
    ax.yaxis.set_major_locator(MultipleLocator(step))
    ax.xaxis.set_major_locator(mdates.YearLocator())
    ax.xaxis.set_major_formatter(mdates.DateFormatter("%Y"))
    ax.grid(True)

fig.savefig("out.png", dpi=75)
